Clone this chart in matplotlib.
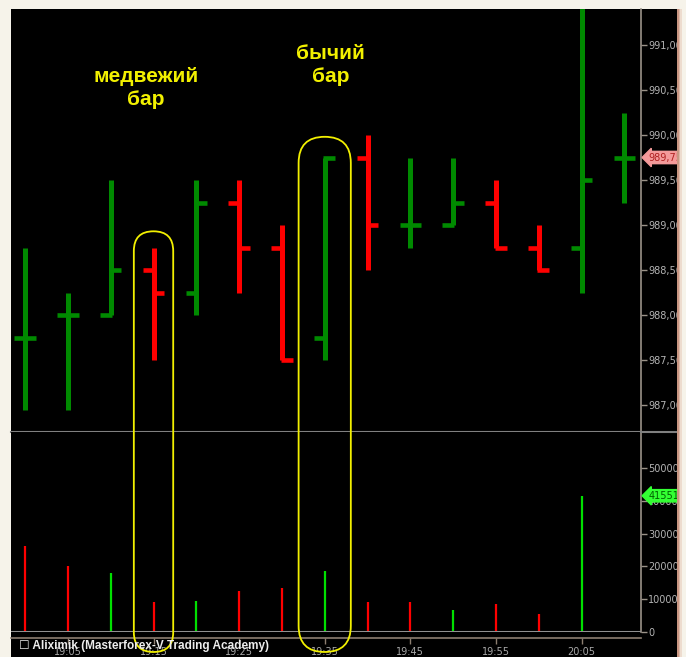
import matplotlib.pyplot as plt
import matplotlib.transforms as mtransforms
from matplotlib.patches import Rectangle, FancyBboxPatch
from matplotlib.lines import Line2D
import numpy as np

# 5-minute bars, 19:00 .. 20:10
times = ['19:00', '19:05', '19:10', '19:15', '19:20', '19:25', '19:30', '19:35',
         '19:40', '19:45', '19:50', '19:55', '20:00', '20:05', '20:10']
opens = [987.75, 988.00, 988.00, 988.50, 988.25, 989.25, 988.75, 987.75,
         989.75, 989.00, 989.00, 989.25, 988.75, 988.75, 989.75]
highs = [988.75, 988.25, 989.50, 988.75, 989.50, 989.50, 989.00, 989.75,
         990.00, 989.75, 989.75, 989.50, 989.00, 991.50, 990.25]
lows = [986.95, 986.95, 988.00, 987.50, 988.00, 988.25, 987.50, 987.50,
        988.50, 988.75, 989.00, 988.75, 988.50, 988.25, 989.25]
closes = [987.75, 988.00, 988.50, 988.25, 989.25, 988.75, 987.50, 989.75,
          989.00, 989.00, 989.25, 988.75, 988.50, 989.50, 989.75]
volumes = [26300, 20200, 18000, 9200, 9500, 12500, 13500, 18600,
           9300, 9200, 6700, 8600, 5500, 41551, 0]
vol_up = [False, False, True, False, True, False, False, True,
          False, False, True, False, False, True, True]

price_ticks = [987.0, 987.5, 988.0, 988.5, 989.0, 989.5, 990.0, 990.5, 991.0]
vol_ticks = [0, 10000, 20000, 30000, 40000, 50000]
time_ticks = [1, 3, 5, 7, 9, 11, 13]

W, H = 686, 657
fig = plt.figure(figsize=(W / 100, H / 100), dpi=100, facecolor='#f6f3ea')

def fx(px):
    return px / W

def fy(py):
    return 1 - py / H

# black terminal background
fig.add_artist(Rectangle((fx(11), 0), fx(677) - fx(11), fy(9), transform=fig.transFigure,
                         facecolor='black', edgecolor='none', zorder=-5))

ax = fig.add_axes([fx(11), fy(432), fx(641) - fx(11), fy(9) - fy(432)])
axv = fig.add_axes([fx(11), fy(632), fx(641) - fx(11), fy(432) - fy(632)])

x = np.arange(len(times))
o = np.array(opens)
c = np.array(closes)
up = c >= o
green = '#008a00'
red = '#ff0000'
cols = [green if u else red for u in up]

ax.vlines(x, lows, highs, colors=cols, linewidth=3.6)
ax.hlines(o, x - 0.25, x + 0.03, colors=cols, linewidth=3.3)
ax.hlines(c, x - 0.03, x + 0.25, colors=cols, linewidth=3.3)

xlim = (-0.33, 14.39)
ax.set_xlim(*xlim)
ax.set_ylim(986.7, 991.4)

vx = [i for i in x if volumes[i] > 0]
vv = [volumes[i] for i in vx]
vc = ['#00e000' if vol_up[i] else '#ff0000' for i in vx]
axv.vlines(vx, 0, vv, colors=vc, linewidth=1.6)
axv.axhline(0, color='#909090', linewidth=2.2, zorder=3)
axv.set_xlim(*xlim)
axv.set_ylim(0, 61000)

tick_col = '#b4b4b4'
for a in (ax, axv):
    a.set_facecolor('black')
    for s in ('top', 'left'):
        a.spines[s].set_visible(False)
    a.spines['right'].set_color('#9a9288')
    a.spines['right'].set_linewidth(1.2)
    a.yaxis.tick_right()
    a.tick_params(axis='y', colors='#9a9288', labelcolor=tick_col, labelsize=7,
                  length=4, width=1, pad=1)
    a.set_xticks([])

ax.spines['bottom'].set_color('#808080')
ax.spines['bottom'].set_linewidth(1.5)
ax.set_yticks(price_ticks)
ax.set_yticklabels([('%.2f' % p).replace('.', ',') for p in price_ticks])

# separator between panels runs across the price scale too
fig.add_artist(Line2D([fx(641), fx(677)], [fy(432), fy(432)], transform=fig.transFigure,
                      color='#808080', linewidth=1.5, zorder=2))

axv.set_yticks(vol_ticks)
axv.set_yticklabels([str(v) for v in vol_ticks])
axv.spines['bottom'].set_position(('outward', 4.5))
axv.spines['bottom'].set_color('#8c7e70')
axv.spines['bottom'].set_linewidth(1.2)
axv.set_xticks(time_ticks)
axv.set_xticklabels([times[i] for i in time_ticks])
axv.tick_params(axis='x', colors='#8c7e70', labelcolor='#a8a8a8', labelsize=7,
                length=4, width=1, pad=2)

# last value markers on the right scale
tr_p = mtransforms.blended_transform_factory(ax.transAxes, ax.transData)
ax.text(1.012, closes[-1], '989,75', transform=tr_p, fontsize=7, color='#b02020',
        va='center', ha='left', clip_on=False, zorder=5,
        bbox=dict(boxstyle='larrow,pad=0.12', fc='#f49a9a', ec='#f49a9a'))
tr_v = mtransforms.blended_transform_factory(axv.transAxes, axv.transData)
axv.text(1.012, volumes[13], '41551', transform=tr_v, fontsize=7, color='#006000',
         va='center', ha='left', clip_on=False, zorder=5,
         bbox=dict(boxstyle='larrow,pad=0.12', fc='#33ff33', ec='#33ff33'))

# annotations
yel = '#f2f000'
ax.text(2.82, 990.52, 'медвежий\nбар', color=yel, fontsize=15, fontweight='bold',
        family=['Liberation Sans', 'DejaVu Sans'], ha='center', va='center',
        linespacing=1.25)
ax.text(7.13, 990.78, 'бычий\nбар', color=yel, fontsize=15, fontweight='bold',
        family=['Liberation Sans', 'DejaVu Sans'], ha='center', va='center',
        linespacing=1.25)

def stadium(idx, half, top_price, bottom_px):
    x0, y0 = ax.transData.transform((idx - half, top_price))
    x1, _ = ax.transData.transform((idx + half, top_price))
    yb = H - bottom_px
    r = (x1 - x0) / 2
    p = FancyBboxPatch((x0, yb), x1 - x0, y0 - yb,
                       boxstyle='round,pad=0,rounding_size=%f' % r,
                       transform=mtransforms.IdentityTransform(),
                       fill=False, edgecolor=yel, linewidth=1.3, zorder=8)
    fig.add_artist(p)

stadium(3, 0.46, 988.93, 652)
stadium(7, 0.61, 989.98, 652)

# legend caption
fig.text(fx(19), fy(646), '\u2610 Aliximik (Masterforex-V Trading Academy)', color='#ececec',
         fontsize=8.5, fontweight='bold', family=['Liberation Sans', 'DejaVu Sans'],
         va='center', ha='left', zorder=9)

# frame on the right with shadow
fig.add_artist(Rectangle((fx(677), 0), 1 - fx(677), 1, transform=fig.transFigure,
                         facecolor='#f6f3ea', edgecolor='none', zorder=10))
for i, col in enumerate(['#c89682', '#dcb9a8', '#eddccf']):
    fig.add_artist(Rectangle((fx(677 + 1.5 * i), 0), fx(1.5), fy(9),
                             transform=fig.transFigure, facecolor=col,
                             edgecolor='none', zorder=11))

fig.savefig('out.png', dpi=100, facecolor=fig.get_facecolor())
